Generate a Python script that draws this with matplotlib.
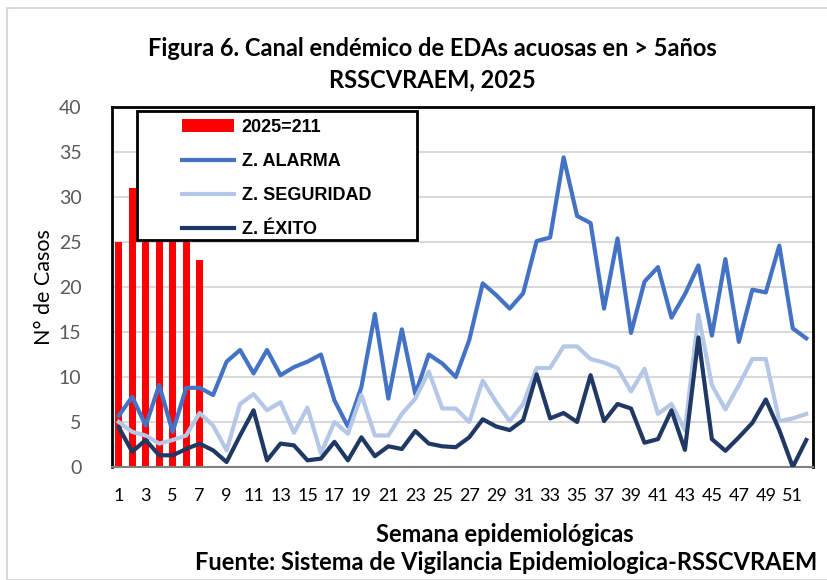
import matplotlib
matplotlib.use("Agg")
import matplotlib.pyplot as plt
from matplotlib.patches import Rectangle

# semanas epidemiologicas
weeks = list(range(1, 53))
weeks_2025 = [1, 2, 3, 4, 5, 6, 7]
casos_2025 = [25, 31, 34, 32, 33, 33, 23]

alarma = [5.7, 7.8, 4.6, 9.1, 3.9, 8.8, 8.8, 8.0, 11.7, 13.0,
          10.4, 13.0, 10.2, 11.1, 11.7, 12.5, 7.4, 4.5, 8.9, 17.0,
          7.6, 15.3, 8.1, 12.5, 11.5, 10.0, 14.1, 20.4, 19.1, 17.6,
          19.3, 25.1, 25.5, 34.4, 27.9, 27.1, 17.6, 25.4, 14.9, 20.6,
          22.2, 16.6, 19.2, 22.4, 14.6, 23.1, 13.9, 19.7, 19.4, 24.6,
          15.4, 14.3]
seguridad = [5.0, 3.9, 3.5, 2.6, 3.0, 3.5, 6.0, 4.6, 1.85, 7.0,
             8.1, 6.3, 7.2, 3.8, 6.6, 1.5, 5.0, 3.7, 8.0, 3.5,
             3.5, 5.9, 7.6, 10.6, 6.5, 6.5, 5.0, 9.6, 7.2, 5.1,
             7.0, 11.0, 11.0, 13.4, 13.4, 12.0, 11.6, 11.0, 8.4, 10.9,
             5.9, 7.0, 4.1, 16.9, 9.1, 6.4, 9.1, 12.0, 12.0, 5.1,
             5.4, 5.9]
exito = [4.4, 1.7, 3.0, 1.3, 1.3, 2.0, 2.6, 1.85, 0.55, 3.5,
         6.3, 0.74, 2.6, 2.4, 0.74, 0.93, 2.8, 0.74, 3.3, 1.2,
         2.3, 2.0, 4.0, 2.6, 2.3, 2.2, 3.3, 5.3, 4.5, 4.1,
         5.2, 10.3, 5.4, 6.0, 5.0, 10.2, 5.1, 7.0, 6.5, 2.7,
         3.1, 6.3, 1.9, 14.4, 3.1, 1.8, 3.3, 4.9, 7.5, 4.1,
         0.0, 3.0]

xticks = list(range(1, 52, 2))
yticks = [0, 5, 10, 15, 20, 25, 30, 35, 40]

W, H = 828, 580
fig = plt.figure(figsize=(W / 100, H / 100), dpi=100)
ax = fig.add_axes([112 / W, 1 - 467 / H, 701 / W, 360 / H])

# borde exterior del grafico
fig.patches.append(Rectangle((7 / W, 0), 1, 1 - 8 / H, transform=fig.transFigure,
                             fill=False, edgecolor="#D9D9D9", linewidth=1.5))

bars = ax.bar(weeks_2025, casos_2025, width=0.5, color="#FF0000", zorder=2,
              label="2025=211")
l1, = ax.plot(weeks, alarma, color="#4472C4", lw=3, zorder=3, label="Z. ALARMA")
l2, = ax.plot(weeks, seguridad, color="#B4C7E7", lw=3, zorder=3, label="Z. SEGURIDAD")
l3, = ax.plot(weeks, exito, color="#203864", lw=3, zorder=4, label="Z. ÉXITO")

ax.set_xlim(0.5, 52.5)
ax.set_ylim(0, 40)
ax.set_yticks(yticks)
ax.set_xticks(xticks)
ax.yaxis.grid(True, color="#D9D9D9", lw=1.5, zorder=0)
ax.set_axisbelow(True)
ax.tick_params(axis="both", length=0)
ax.tick_params(axis="y", pad=22, labelsize=14, labelcolor="#595959")
ax.tick_params(axis="x", pad=15, labelsize=13, labelcolor="black")
for t in ax.get_yticklabels() + ax.get_xticklabels():
    t.set_family(["Lato", "DejaVu Sans"])

for s in ["top", "right", "left"]:
    ax.spines[s].set_color("black")
    ax.spines[s].set_linewidth(2)
ax.spines["bottom"].set_color("#808080")
ax.spines["bottom"].set_linewidth(1.5)

ax.set_ylabel("N° de Casos", fontsize=15.5, family=["Lato", "DejaVu Sans"])
ax.yaxis.set_label_coords(-0.083, 0.5)

# cuadro de la leyenda
ax.add_patch(Rectangle(((137 - 112) / 701, (467 - 240) / 360),
                       (417 - 137) / 701, (240 - 111) / 360,
                       transform=ax.transAxes, facecolor="white", edgecolor="black",
                       linewidth=2, zorder=5))
leg = ax.legend(handles=[bars, l1, l2, l3], loc="upper left",
                bbox_to_anchor=((182 - 112) / 701, (467 - 119) / 360),
                frameon=False, borderpad=0, borderaxespad=0,
                handlelength=2.9, handletextpad=0.4, labelspacing=0.95,
                prop=dict(family=["Liberation Sans", "DejaVu Sans"], weight="bold", size=13))
leg.set_zorder(6)

bold = dict(ha="center", va="center", fontsize=17, weight="bold",
            family=["Lato", "DejaVu Sans"])
fig.text(432 / W, 1 - 48 / H, "Figura 6. Canal endémico de EDAs acuosas en > 5años", **bold)
fig.text(432 / W, 1 - 80 / H, "RSSCVRAEM, 2025", **bold)
fig.text(505 / W, 1 - 535 / H, "Semana epidemiológicas", **bold)
fig.text(506 / W, 1 - 563 / H, "Fuente: Sistema de Vigilancia Epidemiologica-RSSCVRAEM", **bold)

fig.savefig("out.png", dpi=100)
